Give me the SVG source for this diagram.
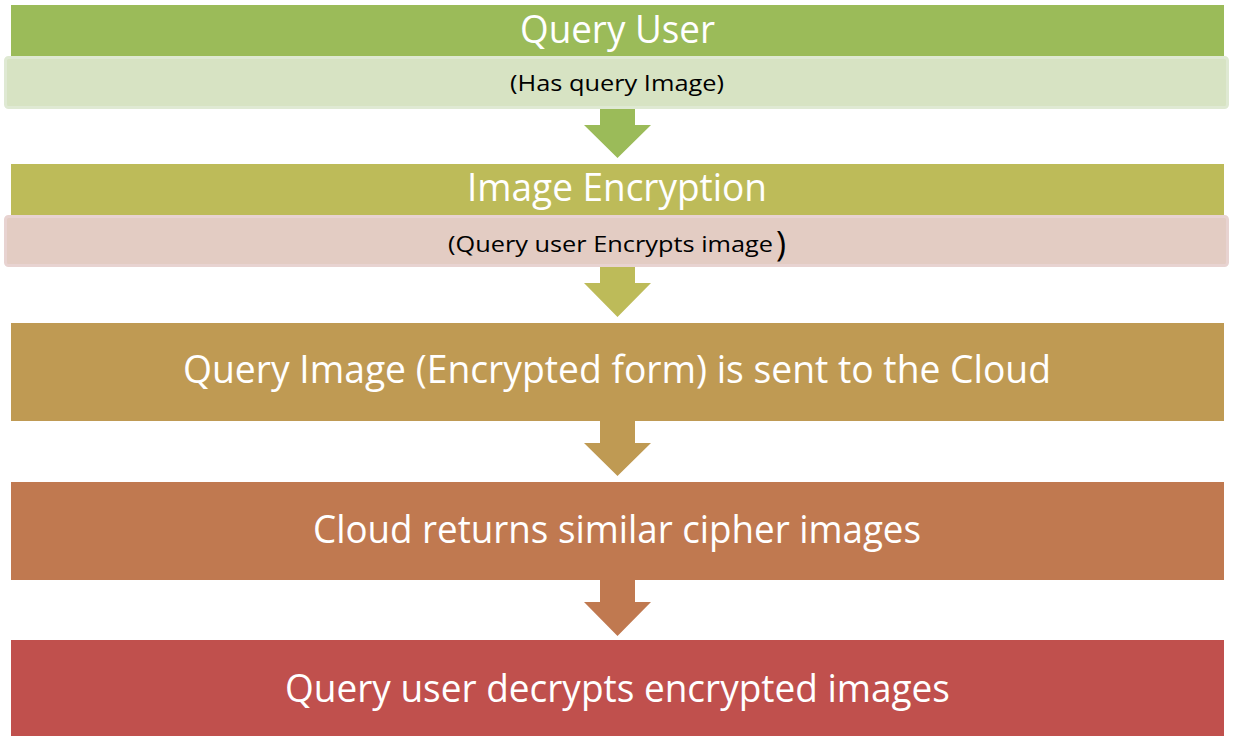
<svg xmlns="http://www.w3.org/2000/svg" width="1235" height="736" viewBox="0 0 1235 736">
<style>
.big{font-family:"Open Sans","Liberation Sans",sans-serif;font-size:38px;fill:#ffffff;text-anchor:middle}
.small{font-family:"Open Sans","Liberation Sans",sans-serif;font-size:22px;fill:#000000;text-anchor:middle}
</style>
<rect width="1235" height="736" fill="#ffffff"/>
<g id="connectors">
<path d="M600,109 H635 V125 H651 L617.5,158 L584,125 H600 Z" fill="#9BBB59"/>
<path d="M600,267 H635 V283 H651 L617.5,317 L584,283 H600 Z" fill="#BDBB59"/>
<path d="M600,421 H635 V443 H651 L617.5,476 L584,443 H600 Z" fill="#BF9A53"/>
<path d="M600,580 H635 V602 H651 L617.5,636 L584,602 H600 Z" fill="#C07950"/>
</g>
<g id="node-query-user">
<rect x="11" y="5" width="1213" height="51" fill="#9BBB59"/>
<text class="big" x="617.5" y="43" textLength="195" lengthAdjust="spacingAndGlyphs">Query User</text>
</g>
<g id="node-has-query-image">
<rect x="5.5" y="57.5" width="1222" height="50" rx="3" fill="#D7E3C3" stroke="#DFE9D3" stroke-width="3"/>
<text class="small" x="617" y="91" textLength="214" lengthAdjust="spacingAndGlyphs">(Has query Image)</text>
</g>
<g id="node-image-encryption">
<rect x="11" y="164" width="1213" height="51" fill="#BDBB59"/>
<text class="big" x="617" y="201" textLength="300" lengthAdjust="spacingAndGlyphs">Image Encryption</text>
</g>
<g id="node-encrypts-image">
<rect x="5.5" y="216.5" width="1222" height="49" rx="3" fill="#E3CCC3" stroke="#E8D3D1" stroke-width="3"/>
<text class="small" x="610.5" y="252" textLength="325" lengthAdjust="spacingAndGlyphs">(Query user Encrypts image</text>
<text x="776" y="256" style="font-family:'Open Sans','Liberation Sans',sans-serif;font-size:34px;fill:#000">)</text>
</g>
<g id="node-sent-to-cloud">
<rect x="11" y="323" width="1213" height="98" fill="#BF9A53"/>
<text class="big" x="617" y="383" textLength="868" lengthAdjust="spacingAndGlyphs">Query Image (Encrypted form) is sent to the Cloud</text>
</g>
<g id="node-cloud-returns">
<rect x="11" y="482" width="1213" height="98" fill="#C07950"/>
<text class="big" x="617" y="543" textLength="608" lengthAdjust="spacingAndGlyphs">Cloud returns similar cipher images</text>
</g>
<g id="node-decrypts">
<rect x="11" y="640" width="1213" height="98" fill="#C0504D"/>
<text class="big" x="617.5" y="702" textLength="665" lengthAdjust="spacingAndGlyphs">Query user decrypts encrypted images</text>
</g>
</svg>
